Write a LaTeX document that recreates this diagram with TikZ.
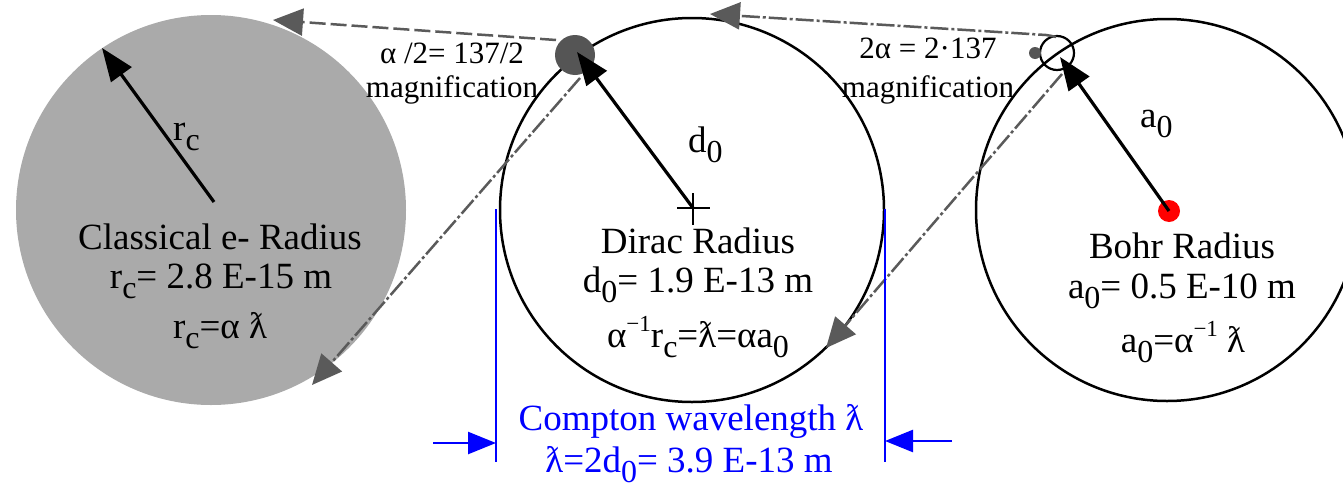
\documentclass[tikz,border=0pt]{standalone}
\usepackage{fontspec}
\setmainfont{Liberation Serif}
\usetikzlibrary{arrows.meta}
\definecolor{lightdisk}{HTML}{AAAAAA}
\definecolor{darkdot}{HTML}{555555}
\definecolor{dashgray}{HTML}{5A5A5A}
\newcommand\sbs[1]{\raisebox{-0.28em}{\fontsize{32}{32}\selectfont #1}}
\newcommand\sps[1]{\raisebox{0.42em}{\fontsize{23}{23}\selectfont #1}}
\newcommand\lam{ƛ}
\tikzset{
  bigtxt/.style={font=\fontsize{37}{44}\selectfont, anchor=base, inner sep=0pt},
  smalltxt/.style={font=\fontsize{31}{37}\selectfont, anchor=base, inner sep=0pt},
  ring/.style={circle, draw=black, line width=2.5pt, inner sep=0pt},
  radarrow/.style={line width=3.2pt, -{Triangle[length=33pt,width=25pt]}},
  magarrow/.style={draw=dashgray, line width=2.5pt, -{Triangle[length=30pt,width=27pt]}, dash pattern=on 16pt off 5pt},
  magarrowdd/.style={draw=dashgray, line width=2.5pt, -{Triangle[length=30pt,width=27pt]}, dash pattern=on 18pt off 3pt on 3pt off 3pt},
  bluearrow/.style={blue, line width=2.5pt, -{Triangle[length=28pt,width=22pt]}},
}
\begin{document}
\begin{tikzpicture}[x=1pt,y=-1pt]
\useasboundingbox (0,0) rectangle (1343,490);
\begin{scope}
\clip (0,0) rectangle (1343,490);
% disks
\node[circle, fill=lightdisk, inner sep=0pt, minimum size=390pt] (classic) at (211,210) {};
\node[ring, minimum size=384pt] (dirac) at (692,210) {};
\node[ring, minimum size=382pt] (bohr) at (1167,210) {};
\end{scope}
% markers
\node[circle, fill=darkdot, inner sep=0pt, minimum size=40pt] (gdot) at (575,55) {};
\node[circle, draw=black, line width=2.2pt, inner sep=0pt, minimum size=34pt] (smallring) at (1057,53) {};
\node[circle, fill=darkdot, inner sep=0pt, minimum size=12pt] (sdot) at (1035,53) {};
\node[circle, fill=red, inner sep=0pt, minimum size=22pt] (reddot) at (1169,211) {};
% cross at dirac centre
\coordinate (crossc) at (693,208);
\draw[line width=2.2pt] (677,208) -- (710,208) (693,193) -- (693,225);
% radius arrows
\coordinate (rctail) at (214,202);
\coordinate (rctip) at (102,48);
\draw[radarrow] (rctail) -- (rctip);
\coordinate (dtip) at (577,52);
\draw[radarrow] (crossc) -- (dtip);
\coordinate (atip) at (1060,57);
\draw[radarrow] (reddot.center) -- (atip);
% magnification arrows
\coordinate (m1s) at (556,40);
\coordinate (m1e) at (273,20);
\draw[magarrow] (m1s) -- (m1e);
\coordinate (m2s) at (580,78);
\coordinate (m2e) at (312,385);
\draw[magarrowdd] (m2s) -- (m2e);
\coordinate (m3s) at (1056,37);
\coordinate (m3c) at (1046,35);
\coordinate (m3e) at (710,14);
\draw[magarrowdd] (m3s) to[out=170,in=-3] (m3c) -- (m3e);
\coordinate (m4s) at (1062,74);
\coordinate (m4e) at (826,348);
\draw[magarrowdd] (m4s) -- (m4e);
% labels for radii
\node[bigtxt, anchor=base west] (lrc) at (173,140) {r\sbs{c}};
\node[bigtxt, anchor=base west] (ld0) at (688,152) {d\sbs{0}};
\node[bigtxt, anchor=base west] (la0) at (1140,127) {a\sbs{0}};
% magnification labels
\node[smalltxt] (mag1a) at (452,63) {α /2= 137/2};
\node[smalltxt] (mag1b) at (452,97) {magnification};
\node[smalltxt] (mag2a) at (928,58) {2α = 2·137};
\node[smalltxt] (mag2b) at (928,97) {magnification};
% circle texts
\node[bigtxt] (c1) at (220,249) {Classical e- Radius};
\node[bigtxt] (c2) at (221,288) {r\sbs{c}= 2.8 E-15 m};
\node[bigtxt] (c3) at (220,338) {r\sbs{c}=α \lam};
\node[bigtxt] (d1) at (698,253) {Dirac Radius};
\node[bigtxt] (d2) at (698,292) {d\sbs{0}= 1.9 E-13 m};
\node[bigtxt] (d3) at (698,347) {α\sps{−1}r\sbs{c}=\lam=αa\sbs{0}};
\node[bigtxt] (b1) at (1182,258) {Bohr Radius};
\node[bigtxt] (b2) at (1182,298) {a\sbs{0}= 0.5 E-10 m};
\node[bigtxt] (b3) at (1183,352) {a\sbs{0}=α\sps{−1} \lam};
% compton dimension
\coordinate (vl1) at (496,209);
\coordinate (vl2) at (496,462);
\coordinate (vr1) at (885,209);
\coordinate (vr2) at (885,462);
\draw[blue, line width=2.5pt] (vl1) -- (vl2) (vr1) -- (vr2);
\coordinate (al1) at (433,443);
\coordinate (al2) at (496,443);
\coordinate (ar1) at (952,441);
\coordinate (ar2) at (885,441);
\draw[bluearrow] (al1) -- (al2);
\draw[bluearrow] (ar1) -- (ar2);
\node[bigtxt, text=blue] (comp1) at (691,430) {Compton wavelength \lam};
\node[bigtxt, text=blue] (comp2) at (689,472) {\lam=2d\sbs{0}= 3.9 E-13 m};
\end{tikzpicture}
\end{document}
